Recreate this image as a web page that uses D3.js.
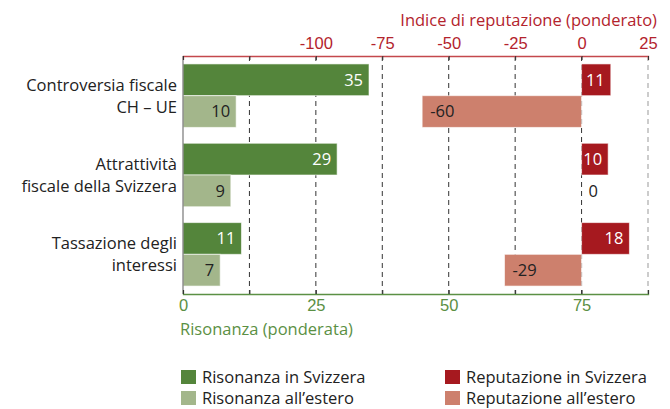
<!DOCTYPE html>
<html>
<head>
<meta charset="utf-8">
<script src="https://cdn.jsdelivr.net/npm/d3@7"></script>
<style>
  body { margin: 0; background: #fff; }
  svg { font-family: "Open Sans", "Noto Sans", sans-serif; }
</style>
</head>
<body>
<svg id="chart" width="670" height="409"></svg>
<script>
// dati
var temi = ["Controversia fiscale|CH \u2013 UE", "Attrattivit\u00e0|fiscale della Svizzera", "Tassazione degli|interessi"];
var risonanzaCH = [35, 29, 11];
var risonanzaEstero = [10, 9, 7];
var reputazioneCH = [11, 10, 18];
var reputazioneEstero = [-60, 0, -29];
var ticksRisonanza = [0, 25, 50, 75];
var ticksReputazione = [-100, -75, -50, -25, 0, 25];

var colori = {
  risCH: "#54853b",
  risEst: "#a3b68b",
  repCH: "#a6191f",
  repEst: "#cd806d",
  rosso: "#b3232d",
  verde: "#5b9044"
};

var fs = "16.5px";
var margin = {top: 56, right: 22, bottom: 115, left: 183};
var w = 670 - margin.left - margin.right;
var h = 409 - margin.top - margin.bottom;

var svg = d3.select("#chart");
var g = svg.append("g").attr("transform", "translate(" + margin.left + "," + margin.top + ")");

var x = d3.scaleLinear().domain([0, 87.5]).range([0, w]);
var xr = d3.scaleLinear().domain([-150, 25]).range([0, w]);

var y = d3.scaleBand().domain(temi).range([0, h]).paddingInner(0.2).paddingOuter(0.1);
var ySub = d3.scaleBand().domain(["ch", "est"]).range([0, y.bandwidth()]);

// griglia tratteggiata
var griglia = [-125, -100, -75, -50, -25, 0];
g.selectAll(".grid")
  .data(griglia)
  .enter()
  .append("line")
  .attr("x1", function(d){ return xr(d); })
  .attr("x2", function(d){ return xr(d); })
  .attr("y1", 0).attr("y2", h)
  .attr("stroke", "#333")
  .attr("stroke-width", 1)
  .attr("stroke-dasharray", "5,4");
g.append("line")
  .attr("x1", w).attr("x2", w).attr("y1", 0).attr("y2", h)
  .attr("stroke", "#999").attr("stroke-dasharray", "5,4");

var righe = [];
temi.forEach(function(t, i){
  righe.push({tema: t, ris: risonanzaCH[i], risE: risonanzaEstero[i], rep: reputazioneCH[i], repE: reputazioneEstero[i]});
});

var gruppi = g.selectAll(".gruppo")
  .data(righe)
  .enter()
  .append("g")
  .attr("transform", function(d){ return "translate(0," + y(d.tema) + ")"; });

function barra(sel, fn, tipo, scala, colore) {
  sel.append("rect")
    .attr("x", function(d){ return Math.min(scala(fn(d)), scala(0)); })
    .attr("y", ySub(tipo))
    .attr("width", function(d){ return Math.abs(scala(fn(d)) - scala(0)); })
    .attr("height", ySub.bandwidth())
    .attr("fill", colore)
    .attr("stroke", "rgba(255,255,255,0.6)")
    .attr("stroke-width", 1);
}
barra(gruppi, function(d){ return d.ris; }, "ch", x, colori.risCH);
barra(gruppi, function(d){ return d.risE; }, "est", x, colori.risEst);
barra(gruppi.filter(function(d){ return d.rep !== 0; }), function(d){ return d.rep; }, "ch", xr, colori.repCH);
barra(gruppi.filter(function(d){ return d.repE !== 0; }), function(d){ return d.repE; }, "est", xr, colori.repEst);

// etichette valori
function etichetta(fn, tipo, scala, colore) {
  gruppi.append("text")
    .text(function(d){ return fn(d); })
    .attr("x", function(d){
      var v = fn(d);
      if (v > 0) return scala(v) - 6;
      if (v < 0) return scala(v) + 8;
      return scala(0) + 7;
    })
    .attr("y", ySub(tipo) + ySub.bandwidth() / 2)
    .attr("dy", "0.36em")
    .attr("text-anchor", function(d){ return fn(d) > 0 ? "end" : "start"; })
    .attr("fill", colore)
    .style("font-size", fs);
}
etichetta(function(d){ return d.ris; }, "ch", x, "#fff");
etichetta(function(d){ return d.risE; }, "est", x, "#222");
etichetta(function(d){ return d.rep; }, "ch", xr, "#fff");
etichetta(function(d){ return d.repE; }, "est", xr, "#222");

// assi
g.append("line").attr("x1", 0).attr("x2", 0).attr("y1", 0).attr("y2", h)
  .attr("stroke", "#777").attr("stroke-width", 1.2);

var assetop = g.append("g")
  .call(d3.axisTop(xr).tickValues([-150, -125].concat(ticksReputazione)).tickSize(-4).tickFormat(function(d){
    return ticksReputazione.indexOf(d) >= 0 ? d : "";
  }));
assetop.select(".domain").attr("stroke", "#c4484d").attr("stroke-width", 1.3);
assetop.selectAll(".tick line").attr("stroke", "#333");
assetop.selectAll(".tick text").attr("fill", colori.rosso).attr("dy", "-4").style("font-size", fs).style("font-family", "inherit");

var assebot = g.append("g")
  .attr("transform", "translate(0," + h + ")")
  .call(d3.axisBottom(x).tickValues([0, 12.5, 25, 37.5, 50, 62.5, 75, 87.5]).tickSize(-4).tickFormat(function(d){
    return ticksRisonanza.indexOf(d) >= 0 ? d : "";
  }));
assebot.select(".domain").attr("stroke", colori.verde).attr("stroke-width", 1.3);
assebot.selectAll(".tick text").attr("fill", colori.verde).attr("dy", "0.85em").style("font-size", fs).style("font-family", "inherit");
assebot.selectAll(".tick line").attr("stroke", "#333");

g.append("text")
  .text("Risonanza (ponderata)")
  .attr("x", -3).attr("y", h + 41)
  .attr("fill", colori.verde)
  .style("font-size", fs);

g.append("text")
  .text("Indice di reputazione (ponderato)")
  .attr("x", w + 9).attr("y", -30)
  .attr("text-anchor", "end")
  .attr("fill", colori.rosso)
  .style("font-size", fs);

// categorie
gruppi.append("text")
  .attr("text-anchor", "end")
  .attr("fill", "#222")
  .style("font-size", fs)
  .selectAll("tspan")
  .data(function(d){ return d.tema.split("|"); })
  .enter()
  .append("tspan")
  .attr("x", -6)
  .attr("y", function(d, i){ return y.bandwidth() / 2 - 11 + i * 22; })
  .attr("dy", "0.36em")
  .text(function(d){ return d; });

// legenda
var legenda = [
  {nome: "Risonanza in Svizzera", colore: colori.risCH, col: 0, riga: 0},
  {nome: "Risonanza all\u2019estero", colore: colori.risEst, col: 0, riga: 1},
  {nome: "Reputazione in Svizzera", colore: colori.repCH, col: 1, riga: 0},
  {nome: "Reputazione all\u2019estero", colore: colori.repEst, col: 1, riga: 1}
];
var leg = svg.selectAll(".leg")
  .data(legenda)
  .enter()
  .append("g")
  .attr("transform", function(d){ return "translate(" + (181 + d.col * 264) + "," + (370 + d.riga * 21) + ")"; });
leg.append("rect").attr("width", 15).attr("height", 14).attr("fill", function(d){ return d.colore; });
leg.append("text")
  .text(function(d){ return d.nome; })
  .attr("x", 21).attr("y", 7).attr("dy", "0.36em")
  .attr("fill", "#222")
  .style("font-size", fs);
</script>
</body>
</html>
